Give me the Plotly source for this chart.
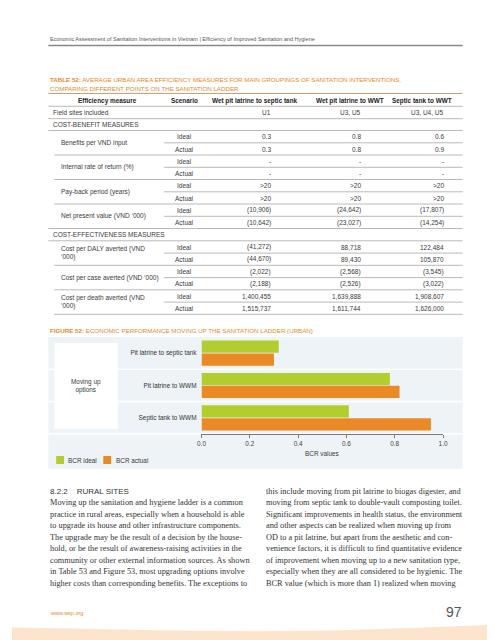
import plotly.graph_objects as go

W, H = 495, 640

# ---------------- data ----------------
categories = ["Pit latrine to septic tank", "Pit latrine to WWM", "Septic tank to WWM"]
bcr_ideal = [0.32, 0.78, 0.61]
bcr_actual = [0.30, 0.82, 0.95]
x_ticks = [0.0, 0.2, 0.4, 0.6, 0.8, 1.0]

table_columns = ["Efficiency measure", "Scenario", "Wet pit latrine to septic tank",
                 "Wet pit latrine to WWT", "Septic tank to WWT"]
field_sites = ["U1", "U3, U5", "U3, U4, U5"]
cb_measures = ["Benefits per VND input", "Internal rate of return (%)",
               "Pay-back period (years)", "Net present value (VND \u2018000)"]
cb_ideal = [["0.3", "0.8", "0.6"], ["-", "-", "-"], [">20", ">20", ">20"],
            ["(10,906)", "(24,642)", "(17,807)"]]
cb_actual = [["0.3", "0.8", "0.9"], ["-", "-", "-"], [">20", ">20", ">20"],
             ["(10,642)", "(23,027)", "(14,254)"]]
ce_measures = ["Cost per DALY averted (VND<br>\u2018000)", "Cost per case averted (VND \u2018000)",
               "Cost per death averted (VND<br>\u2018000)"]
ce_ideal = [["(41,272)", "88,718", "122,484"], ["(2,022)", "(2,568)", "(3,545)"],
            ["1,400,455", "1,639,888", "1,908,607"]]
ce_actual = [["(44,670)", "89,430", "105,870"], ["(2,188)", "(2,526)", "(3,022)"],
             ["1,515,737", "1,611,744", "1,626,000"]]

body_left = [
    "Moving up the sanitation and hygiene ladder is a common",
    "practice in rural areas, especially when a household is able",
    "to upgrade its house and other infrastructure components.",
    "The upgrade may be the result of a decision by the house-",
    "hold, or be the result of awareness-raising activities in the",
    "community or other external information sources. As shown",
    "in Table 53 and Figure 53, most upgrading options involve",
    "higher costs than corresponding benefits. The exceptions to",
]
body_right = [
    "this include moving from pit latrine to biogas digester, and",
    "moving from septic tank to double-vault composting toilet.",
    "Significant improvements in health status, the environment",
    "and other aspects can be realized when moving up from",
    "OD to a pit latrine, but apart from the aesthetic and con-",
    "venience factors, it is difficult to find quantitative evidence",
    "of improvement when moving up to a new sanitation type,",
    "especially when they are all considered to be hygienic. The",
    "BCR value (which is more than 1) realized when moving",
]

# ---------------- helpers ----------------
def px(x):
    return x / W

def py(y):
    return 1 - y / H

SANS = "Liberation Sans, Arial, sans-serif"
SERIF = "Liberation Serif, Times New Roman, serif"
GREEN = "#b3cd2f"
ORANGE = "#ea8a26"
TITLE_OR = "#e3892c"
TXT = "#3a3a3a"
LINE = "#b9b9b9"

annotations = []
shapes = []

def text(x, y, s, size=6.5, color=TXT, xanchor="left", family=SANS, align="left"):
    annotations.append(dict(x=px(x), y=py(y), xref="paper", yref="paper", text=s,
                            showarrow=False, xanchor=xanchor, yanchor="middle",
                            align=align, font=dict(family=family, size=size, color=color)))

def hline(y, x0, x1, color=LINE, width=1, layer="above"):
    shapes.append(dict(type="line", xref="paper", yref="paper", x0=px(x0), x1=px(x1),
                       y0=py(y), y1=py(y), line=dict(color=color, width=width), layer=layer))

def rect(x0, y0, x1, y1, color, layer="below"):
    shapes.append(dict(type="rect", xref="paper", yref="paper", x0=px(x0), x1=px(x1),
                       y0=py(y0), y1=py(y1), fillcolor=color, line=dict(width=0), layer=layer))

# ---------------- page header ----------------
text(37, 31, "Economic Assessment of Sanitation Interventions in Vietnam | Efficiency of Improved Sanitation and Hygiene",
     size=5.5, color="#555")
hline(37.5, 37, 459, color="#888", width=1.5)

# ---------------- table ----------------
text(37, 71, "<b>TABLE 52:</b> AVERAGE URBAN AREA EFFICIENCY MEASURES FOR MAIN GROUPINGS OF SANITATION INTERVENTIONS,",
     size=6.2, color=TITLE_OR)
text(37, 80, "COMPARING DIFFERENT POINTS ON THE SANITATION LADDER", size=6.2, color=TITLE_OR)
hline(85.5, 37, 459, color="#c9a07a", width=1)

col_hdr_x = [97, 176, 247, 344, 418]
for cx, c in zip(col_hdr_x, table_columns):
    text(cx, 93, "<b>" + c + "</b>", size=6.4, color="#222", xanchor="center")
hline(98.3, 37, 459)

val_right = [266, 358, 442]
text(40, 104.7, "Field sites included")
for xr, v in zip(val_right, field_sites):
    text(xr, 104.7, v, xanchor="right")
hline(110.7, 37, 459)

text(40, 116.7, "COST-BENEFIT MEASURES")
hline(122.5, 37, 459)

def block(y_top, measures, ideal, actual, last_full=False):
    y = y_top
    for i, m in enumerate(measures):
        yi, ya = y + 6.3, y + 18.5
        text(48, (yi + ya) / 2, m)
        text(176, yi, "Ideal", xanchor="center")
        text(176, ya, "Actual", xanchor="center")
        for xr, v in zip(val_right, ideal[i]):
            text(xr, yi, v, xanchor="right")
        for xr, v in zip(val_right, actual[i]):
            text(xr, ya, v, xanchor="right")
        hline(y + 12.3, 155, 459)
        y += 24.5
        is_last = i == len(measures) - 1
        hline(y, 37 if (is_last and last_full) else 43, 459)
    return y

y_end = block(122.5, cb_measures, cb_ideal, cb_actual, last_full=True)
text(40, y_end + 6.3, "COST-EFFECTIVENESS MEASURES")
hline(y_end + 12.3, 37, 459)
block(y_end + 12.3, ce_measures, ce_ideal, ce_actual)

# ---------------- figure ----------------
text(37, 322, "<b>FIGURE 52:</b> ECONOMIC PERFORMANCE MOVING UP THE SANITATION LADDER (URBAN)",
     size=6.2, color=TITLE_OR)

rect(37, 329, 459, 461, "#edf3f6")
for yy in (361.3, 393.6, 426):
    hline(yy, 37, 459, color="white", width=1.6, layer="below")
rect(43, 335, 108, 421, "white")
text(75.5, 378, "Moving up<br>options", size=6.4, xanchor="center", align="center")

text(316, 445, "BCR values", size=6.4, xanchor="center")
rect(45, 448, 53, 456, GREEN, layer="above")
text(55.5, 452.3, "BCR ideal", size=6.4)
rect(93, 448, 101, 456, ORANGE, layer="above")
text(103.5, 452.3, "BCR actual", size=6.4)

# ---------------- body text ----------------
text(37, 483, "8.2.2&nbsp;&nbsp;&nbsp;&nbsp;RURAL SITES", size=8, color="#333")
for i, s in enumerate(body_left):
    text(37, 494.5 + i * 11.5, s, size=8.3, color="#333", family=SERIF)
for i, s in enumerate(body_right):
    text(257, 483 + i * 11.5, s, size=8.3, color="#333", family=SERIF)

# ---------------- footer ----------------
text(37, 605, "www.wsp.org", size=5.5, color=TITLE_OR)
text(460, 604, "97", size=14, color="#555", xanchor="right")

# wavy peach band at the bottom
pts = [(0, 619.5), (60, 620.5), (160, 622.5), (250, 623.3), (330, 622.5), (420, 619.5), (495, 616.5)]
path = "M 0 1 " + " ".join(f"L {px(x):.4f} {py(y):.4f}" for x, y in pts) + f" L 1 {py(640):.4f} L 0 {py(640):.4f} Z"
path = f"M {px(0):.4f} {py(640):.4f} " + " ".join(f"L {px(x):.4f} {py(y):.4f}" for x, y in pts) + f" L {px(495):.4f} {py(640):.4f} Z"
shapes.append(dict(type="path", xref="paper", yref="paper", path=path,
                   fillcolor="#fde4cd", line=dict(width=0), layer="below"))

# ---------------- traces ----------------
fig = go.Figure()
fig.add_trace(go.Bar(y=categories, x=bcr_ideal, orientation="h", name="BCR ideal",
                     marker=dict(color=GREEN, line=dict(width=0))))
fig.add_trace(go.Bar(y=categories, x=bcr_actual, orientation="h", name="BCR actual",
                     marker=dict(color=ORANGE, line=dict(width=0))))

fig.update_layout(
    width=W, height=H,
    margin=dict(l=0, r=0, t=0, b=0),
    paper_bgcolor="white",
    plot_bgcolor="rgba(0,0,0,0)",
    showlegend=False,
    barmode="group",
    bargap=0.2,
    bargroupgap=0.05,
    xaxis=dict(domain=[px(193), px(439)], range=[0, 1.0], tickvals=x_ticks,
               tickformat=".1f", showgrid=False, zeroline=False,
               showline=True, linecolor="#7a7a7a", linewidth=1,
               ticks="outside", ticklen=3, tickcolor="#7a7a7a",
               tickfont=dict(family=SANS, size=6.4, color="#444"),
               anchor="y", fixedrange=True),
    yaxis=dict(domain=[py(426), py(329)], type="category", range=[2.5, -0.5],
               showgrid=False, zeroline=False, showline=False, ticks="",
               ticklabelstandoff=4,
               tickfont=dict(family=SANS, size=6.4, color="#333"), fixedrange=True),
    annotations=annotations,
    shapes=shapes,
)

fig.write_html("out.html")
